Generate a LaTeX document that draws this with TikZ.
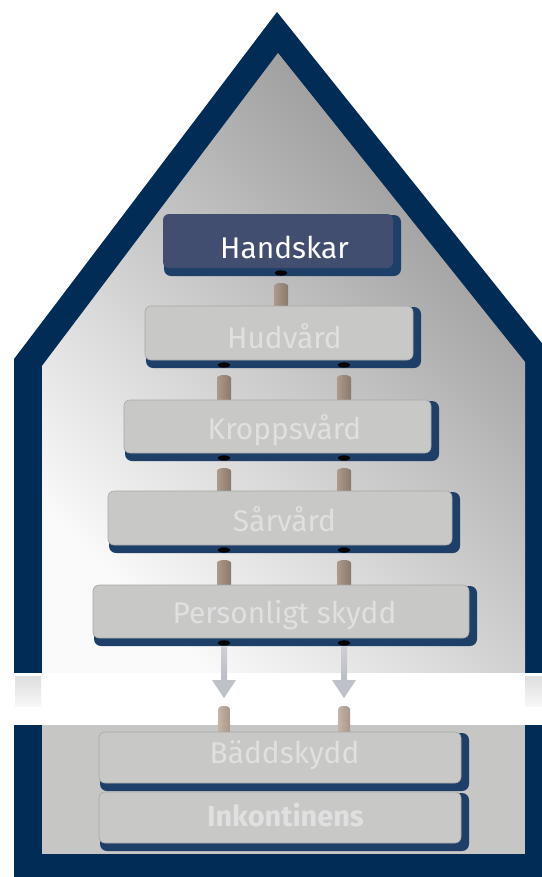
\documentclass[tikz,border=0pt]{standalone}
\usepackage{fontspec}
\setmainfont{Fira Sans}
\usetikzlibrary{calc}
\pgfdeclarelayer{back}\pgfdeclarelayer{mid}\pgfdeclarelayer{front}
\pgfsetlayers{back,mid,main,front}
\definecolor{framec}{RGB}{0,44,86}
\definecolor{shadowc}{RGB}{30,64,104}
\definecolor{handc}{RGB}{66,78,112}
\definecolor{facegray}{RGB}{200,200,198}
\definecolor{faceline}{RGB}{168,168,168}
\definecolor{lbltext}{RGB}{224,224,224}
\definecolor{lowgray}{RGB}{198,198,196}
\definecolor{shadeDark}{RGB}{150,150,150}
\definecolor{shadeLight}{RGB}{250,250,250}
\definecolor{pegL}{RGB}{172,154,140}
\definecolor{pegR}{RGB}{138,122,108}
\definecolor{pegLL}{RGB}{196,180,166}
\definecolor{pegLR}{RGB}{168,150,136}
\definecolor{arrowc}{RGB}{190,193,200}
\definecolor{shaftA}{RGB}{206,207,212}
\definecolor{shaftB}{RGB}{186,189,196}
\newcommand{\mypeg}[4]{%
  \path ($(#1 |- #2.south)+(0,15)$) coordinate (pt) ($(#1 |- #3.north)+(0,2)$) coordinate (pb);
  \shade[left color=#4L, right color=#4R] ($(pt)+(-7,3)$) arc[start angle=180,end angle=360,x radius=7,y radius=3]
     -- ($(pb)+(7,0)$) -- ($(pb)+(-7,0)$) -- cycle;}
\newcommand{\mypegat}[4]{%
  \path ($(#1 |- #2.south)+(0,#3)$) coordinate (pt) ($(#1 |- #4.north)+(0,2)$) coordinate (pb);
  \shade[left color=pegLL, right color=pegLR] ($(pt)+(-6,3)$) arc[start angle=180,end angle=360,x radius=6,y radius=3]
     -- ($(pb)+(6,0)$) -- ($(pb)+(-6,0)$) -- cycle;}
\begin{document}
\begin{tikzpicture}[x=1bp,y=-1bp,
  face/.style={draw=faceline, line width=0.6bp, fill=facegray, rounded corners=6bp, inner sep=0pt, outer sep=0pt, anchor=north west},
  hface/.style={fill=handc, rounded corners=6bp, inner sep=0pt, outer sep=0pt, anchor=north west},
  lbl/.style={text=lbltext, font=\fontsize{30}{36}\selectfont, inner sep=0pt, anchor=base},
  hole/.style={fill=black, x radius=6.5, y radius=2.6}]
\useasboundingbox (0,0) rectangle (542,877);
\clip (0,0) rectangle (542,877);
% columns
\coordinate (cL) at (224,0);
\coordinate (cR) at (344,0);
\coordinate (cM) at (281,0);
% boxes
\node[hface, minimum width=230bp, minimum height=54bp] (hand) at (163,214) {};
\node[face, minimum width=268bp, minimum height=54bp] (hud) at (145,306) {};
\node[face, minimum width=307bp, minimum height=53bp] (kro) at (124,400) {};
\node[face, minimum width=344bp, minimum height=54bp] (sar) at (108,491) {};
\node[face, minimum width=376bp, minimum height=53bp] (per) at (93,585) {};
\node[face, minimum width=362bp, minimum height=51bp] (bad) at (99,732) {};
\node[face, minimum width=362bp, minimum height=51bp] (ink) at (99,792) {};
% labels
\node[lbl, text=white] (handT) at (284.5,258) {Handskar};
\node[lbl] (hudT) at (284.5,348) {Hudvård};
\node[lbl] (kroT) at (284.5,439) {Kroppsvård};
\node[lbl] (sarT) at (284.5,531) {Sårvård};
\node[lbl] (perT) at (284.5,623) {Personligt skydd};
\node[lbl] (badT) at (284.5,763) {Bäddskydd};
\node[lbl, font=\fontsize{29}{36}\selectfont\bfseries] (inkT) at (285.5,826) {Inkontinens};
% house
\begin{pgfonlayer}{back}
\fill[framec] (277,12) -- (553,357) -- (553,877) -- (14,877) -- (14,359) -- cycle;
\shade[top color=shadeDark, bottom color=shadeLight, shading angle=-45]
  (278,53) -- (525,362) -- (525,673) -- (42,673) -- (42,366) -- cycle;
\fill[lowgray] (42,725) rectangle (525,854);
\fill[white] (0,673) rectangle (560,725);
\shade[top color=black!13, bottom color=black!3] (15,676) rectangle (41,706);
\shade[top color=black!13, bottom color=black!3] (525,676) rectangle (553,706);
\end{pgfonlayer}
% shadows and pegs
\begin{pgfonlayer}{mid}
\foreach \b in {hand,hud,kro,sar,per,bad,ink}
  \fill[shadowc, rounded corners=7bp] ($(\b.north west)+(1,1)$) rectangle ($(\b.south east)+(8,8)$);
\mypeg{cM}{hand}{hud}{peg}
\mypeg{cL}{hud}{kro}{peg}
\mypeg{cR}{hud}{kro}{peg}
\mypeg{cL}{kro}{sar}{peg}
\mypeg{cR}{kro}{sar}{peg}
\mypeg{cL}{sar}{per}{peg}
\mypeg{cR}{sar}{per}{peg}
\mypegat{cL}{per}{68}{bad}
\mypegat{cR}{per}{68}{bad}
% arrows
\foreach \c in {cL,cR}{
  \shade[top color=shaftA, bottom color=shaftB] ($(\c |- per.south)+(-3,9)$) rectangle ($(\c |- per.south)+(3,42)$);
  \fill[arrowc] ($(\c |- per.south)+(-12,42)$) -- ($(\c |- per.south)+(12,42)$) -- ($(\c |- per.south)+(0,60)$) -- cycle;
}
\end{pgfonlayer}
% holes
\begin{pgfonlayer}{front}
\fill[black] ($(cM |- hand.south)+(0,5)$) ellipse[x radius=6.5, y radius=2.6];
\foreach \b in {hud,kro,sar,per}{
  \fill[black] ($(cL |- \b.south)+(0,5)$) ellipse[x radius=6.5, y radius=2.6];
  \fill[black] ($(cR |- \b.south)+(0,5)$) ellipse[x radius=6.5, y radius=2.6];
}
\end{pgfonlayer}
\end{tikzpicture}
\end{document}
